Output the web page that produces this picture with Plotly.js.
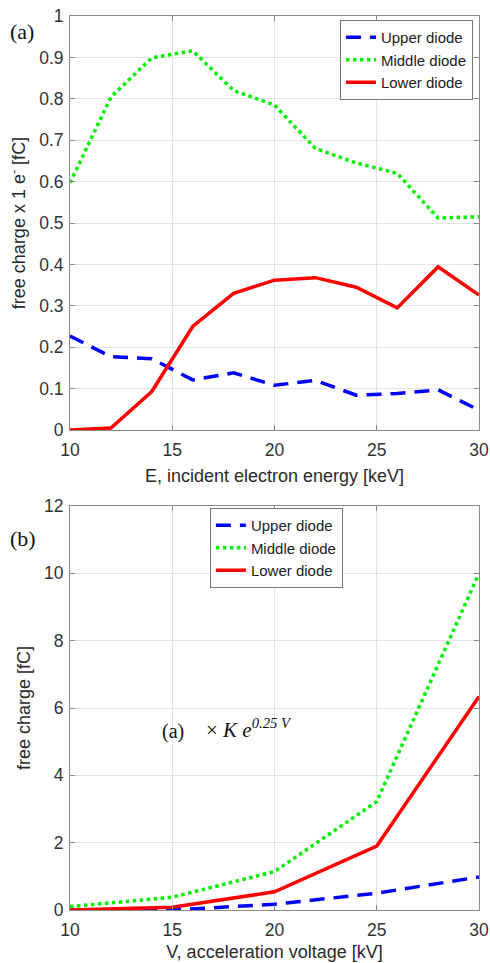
<!DOCTYPE html>
<html>
<head>
<meta charset="utf-8">
<script src="https://cdn.plot.ly/plotly-3.0.1.min.js"></script>
<style>html,body{margin:0;padding:0;background:#fff;}#chart{width:490px;height:963px;}</style>
</head>
<body>
<div id="chart"></div>
<script>
// Panel (a): free charge per electron vs incident electron energy
const energyKeV = [10, 12, 14, 16, 18, 20, 22, 24, 26, 28, 30];
const upperA  = [0.227, 0.177, 0.172, 0.121, 0.138, 0.108, 0.120, 0.084, 0.088, 0.097, 0.048];
const middleA = [0.597, 0.804, 0.899, 0.916, 0.820, 0.785, 0.680, 0.645, 0.620, 0.512, 0.515];
const lowerA  = [0.000, 0.005, 0.093, 0.250, 0.330, 0.362, 0.368, 0.345, 0.295, 0.394, 0.326];

// Panel (b): free charge vs acceleration voltage
const voltageKV = [10, 15, 20, 25, 30];
const upperB  = [0.00, 0.00, 0.17, 0.50, 0.98];
const middleB = [0.10, 0.38, 1.14, 3.22, 10.00];
const lowerB  = [0.00, 0.08, 0.54, 1.90, 6.34];

const seriesNames = ['Upper diode', 'Middle diode', 'Lower diode'];
const ticksA = [0, 0.1, 0.2, 0.3, 0.4, 0.5, 0.6, 0.7, 0.8, 0.9, 1];
const ticksB = [0, 2, 4, 6, 8, 10, 12];
const ticksX = [10, 15, 20, 25, 30];

const BLUE = '#0000ff', GREEN = '#00ee00', RED = '#ff0000';
const lineStyles = [
  {color: BLUE, width: 3.5, dash: '15px,9px'},
  {color: GREEN, width: 3.5, dash: '3.5px,3.5px'},
  {color: RED, width: 3.5, dash: 'solid'}
];

const traces = [];
[upperA, middleA, lowerA].forEach((ys, i) => {
  traces.push({x: energyKeV, y: ys, name: seriesNames[i], type: 'scatter', mode: 'lines',
    line: lineStyles[i], xaxis: 'x', yaxis: 'y', legend: 'legend'});
});
[upperB, middleB, lowerB].forEach((ys, i) => {
  traces.push({x: voltageKV, y: ys, name: seriesNames[i], type: 'scatter', mode: 'lines',
    line: lineStyles[i], xaxis: 'x2', yaxis: 'y2', legend: 'legend2'});
});

const tickFont = {family: 'Liberation Sans, Arial, sans-serif', size: 17.5, color: '#333'};
const titleFont = {family: 'Liberation Sans, Arial, sans-serif', size: 18, color: '#2a2a2a'};
const axisCommon = {
  showline: true, linecolor: '#8a8a8a', linewidth: 1, mirror: 'ticks',
  ticks: 'inside', ticklen: 5, tickcolor: '#8a8a8a', tickwidth: 1,
  showgrid: true, gridcolor: '#e3e3e3', gridwidth: 1,
  zeroline: false, tickfont: tickFont, automargin: false
};
const legendFont = {family: 'Liberation Sans, Arial, sans-serif', size: 15, color: '#222'};

const layout = {
  width: 490, height: 963,
  margin: {l: 70, r: 11, t: 16, b: 53},
  paper_bgcolor: '#fff', plot_bgcolor: '#fff',
  showlegend: true,
  xaxis: Object.assign({}, axisCommon, {domain: [0, 1], anchor: 'y', range: [10, 30],
    tickvals: ticksX, ticklabelstandoff: 4,
    title: {text: 'E, incident electron energy [keV]', font: titleFont, standoff: 10}}),
  yaxis: Object.assign({}, axisCommon, {domain: [0.5369, 1], anchor: 'x', range: [0, 1],
    tickvals: ticksA, ticklabelstandoff: 2,
    title: {text: 'free charge x 1 e<sup>-</sup> [fC]', font: titleFont, standoff: 8}}),
  xaxis2: Object.assign({}, axisCommon, {domain: [0, 1], anchor: 'y2', range: [10, 30],
    tickvals: ticksX, ticklabelstandoff: 4,
    title: {text: 'V, acceleration voltage [kV]', font: titleFont, standoff: 6}}),
  yaxis2: Object.assign({}, axisCommon, {domain: [0, 0.4519], anchor: 'x2', range: [0, 12],
    tickvals: ticksB, ticklabelstandoff: 2,
    title: {text: 'free charge [fC]', font: titleFont, standoff: 8}}),
  legend: {x: 0.66, y: 0.9955, xanchor: 'left', yanchor: 'top', bgcolor: '#fff',
    bordercolor: '#777', borderwidth: 1, font: legendFont, tracegroupgap: 0, itemwidth: 30},
  legend2: {x: 0.342, y: 0.4497, xanchor: 'left', yanchor: 'top', bgcolor: '#fff',
    bordercolor: '#777', borderwidth: 1, font: legendFont, tracegroupgap: 0, itemwidth: 30},
  annotations: [
    {text: '(a)', xref: 'paper', yref: 'paper', x: -0.152, y: 0.983, xanchor: 'left', yanchor: 'middle',
      showarrow: false, font: {family: 'Liberation Serif, Times New Roman, serif', size: 22, color: '#111'}},
    {text: '(b)', xref: 'paper', yref: 'paper', x: -0.152, y: 0.416, xanchor: 'left', yanchor: 'middle',
      showarrow: false, font: {family: 'Liberation Serif, Times New Roman, serif', size: 22, color: '#111'}},
    {text: '(a)', xref: 'paper', yref: 'paper',
      x: 0.22, y: 0.1998, xanchor: 'left', yanchor: 'middle', showarrow: false,
      font: {family: 'Liberation Serif, Times New Roman, serif', size: 20, color: '#111'}},
    {text: '\u00d7 <i>K e</i><sup><i>0.25 V</i></sup>', xref: 'paper', yref: 'paper',
      x: 0.328, y: 0.2035, xanchor: 'left', yanchor: 'middle', showarrow: false,
      font: {family: 'Liberation Serif, Times New Roman, serif', size: 21, color: '#111'}}
  ]
};

Plotly.newPlot('chart', traces, layout, {displayModeBar: false, staticPlot: true});
</script>
</body>
</html>
